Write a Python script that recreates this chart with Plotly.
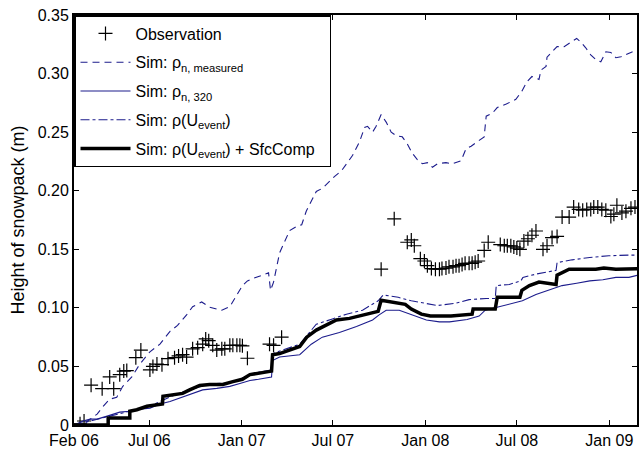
import pandas as pd
import plotly.graph_objects as go

# Days since 1 Feb 2006 and snow height (m)
START = pd.Timestamp("2006-02-01")

obs_day = [12, 20, 34, 56, 71, 79, 91, 99, 105, 123, 133, 151, 157, 165, 175, 187, 200, 208,
           216, 224, 236, 246, 256, 262, 268, 276, 284, 294, 300, 310, 316, 324, 330, 335, 345,
           389, 397, 413,
           611, 637, 663, 671, 677, 689, 697, 703, 711, 719, 727, 732, 740, 746, 754, 760, 766,
           772, 778, 786, 792, 798, 804, 816, 824, 848, 856, 862, 869, 875, 881, 887, 895, 903,
           911, 919, 933, 941, 951, 961, 971, 985, 994, 1004, 1012, 1020, 1028, 1034, 1042,
           1050, 1058, 1068, 1074, 1080, 1090, 1098, 1108, 1116]
obs_h = [0.001, 0.0034, 0.034, 0.031, 0.041, 0.031, 0.043, 0.046, 0.0465, 0.0575, 0.064,
         0.047, 0.050, 0.052, 0.0515, 0.0566, 0.0575, 0.059, 0.060, 0.058, 0.065, 0.066, 0.069,
         0.0735, 0.072, 0.068, 0.064, 0.065, 0.065, 0.068, 0.068, 0.068, 0.068, 0.0676, 0.057,
         0.069, 0.068, 0.075,
         0.133, 0.176, 0.156, 0.158, 0.153, 0.142, 0.140, 0.136, 0.1335, 0.133, 0.133, 0.1335,
         0.134, 0.135, 0.135, 0.136, 0.136, 0.137, 0.138, 0.138, 0.138, 0.139, 0.140, 0.149,
         0.156, 0.154, 0.153, 0.153, 0.153, 0.152, 0.151, 0.150, 0.157, 0.159, 0.162, 0.1656,
         0.150, 0.153, 0.160, 0.161, 0.1775, 0.1775, 0.186, 0.184, 0.1834, 0.184, 0.184, 0.186,
         0.186, 0.184, 0.1834, 0.178, 0.180, 0.1876, 0.181, 0.1825, 0.185, 0.186]

meas_day = [0, 22, 46, 58, 71, 85, 97, 115, 131, 151, 171, 191, 206, 224, 236, 254, 270, 294,
            310, 324, 335, 345, 355, 375, 387, 391, 397, 409, 419, 429, 445, 453, 462, 472, 482,
            494, 508, 518, 532, 542, 554, 568, 578, 584, 594, 601, 611, 621, 631, 641, 653, 663,
            673, 683, 693, 703, 713, 723, 740, 752, 770, 780, 790, 806, 816, 818, 820, 832, 842,
            860, 879, 891, 901, 911, 925, 929, 939, 941, 951, 961, 975, 989, 1000, 1008, 1018,
            1028, 1038, 1048, 1058, 1068, 1078, 1088, 1098, 1110, 1118]
meas_h = [0.0, 0.0017, 0.0093, 0.016, 0.022, 0.0237, 0.033, 0.041, 0.052, 0.0625, 0.069, 0.080,
          0.085, 0.094, 0.101, 0.105, 0.1005, 0.098, 0.101, 0.111, 0.119, 0.123, 0.125, 0.128,
          0.130, 0.115, 0.122, 0.147, 0.157, 0.166, 0.170, 0.171, 0.1825, 0.191, 0.1994, 0.202,
          0.208, 0.212, 0.217, 0.223, 0.230, 0.2417, 0.254, 0.255, 0.250, 0.255, 0.265, 0.2586,
          0.250, 0.247, 0.246, 0.240, 0.232, 0.2265, 0.223, 0.224, 0.220, 0.223, 0.224, 0.223,
          0.2256, 0.236, 0.238, 0.243, 0.246, 0.255, 0.2636, 0.266, 0.271, 0.274, 0.278, 0.285,
          0.293, 0.2975, 0.295, 0.303, 0.306, 0.314, 0.3186, 0.323, 0.323, 0.327, 0.330, 0.327,
          0.322, 0.316, 0.312, 0.310, 0.3186, 0.318, 0.3135, 0.3143, 0.316, 0.3186, 0.320]

n320_day = [0, 18, 32, 46, 66, 77, 91, 111, 131, 151, 171, 191, 210, 230, 256, 284, 310, 330,
            350, 367, 393, 395, 409, 449, 472, 494, 528, 562, 594, 607, 621, 647, 673, 701, 727,
            747, 782, 806, 818, 840, 866, 892, 919, 945, 971, 1000, 1026, 1052, 1078, 1104, 1122]
n320_h = [0.0, 0.0034, 0.005, 0.005, 0.0076, 0.009, 0.011, 0.0118, 0.0135, 0.0144, 0.018, 0.020,
          0.023, 0.026, 0.030, 0.0313, 0.033, 0.0355, 0.038, 0.039, 0.041, 0.055, 0.058, 0.060,
          0.069, 0.075, 0.079, 0.084, 0.0896, 0.094, 0.098, 0.098, 0.094, 0.0896, 0.088, 0.088,
          0.090, 0.093, 0.098, 0.1005, 0.103, 0.106, 0.1115, 0.115, 0.119, 0.121, 0.123, 0.124,
          0.126, 0.126, 0.128]

uev_day = [0, 46, 68, 111, 151, 191, 230, 270, 310, 335, 367, 393, 395, 449, 470, 482, 514, 542,
           574, 605, 615, 645, 671, 695, 723, 760, 786, 820, 838, 840, 866, 889, 893, 921, 959,
           961, 991, 1026, 1064, 1104, 1122]
uev_h = [0.0, 0.005, 0.007, 0.012, 0.016, 0.024, 0.030, 0.035, 0.036, 0.040, 0.045, 0.047, 0.061,
         0.069, 0.080, 0.086, 0.0905, 0.0946, 0.098, 0.106, 0.111, 0.109, 0.106, 0.104, 0.102,
         0.104, 0.107, 0.108, 0.108, 0.119, 0.120, 0.123, 0.126, 0.129, 0.132, 0.1386, 0.141,
         0.143, 0.1445, 0.145, 0.145]

sfc_day = [0, 68, 68, 111, 111, 125, 145, 165, 176, 177, 196, 216, 230, 250, 270, 296, 316, 335,
           350, 367, 393, 395, 409, 449, 463, 482, 502, 522, 548, 580, 605, 611, 631, 659, 671,
           691, 709, 750, 792, 794, 838, 842, 887, 891, 906, 925, 959, 961, 985, 1004, 1038,
           1054, 1078, 1122]
sfc_h = [0.0, 0.0, 0.006, 0.006, 0.0118, 0.013, 0.016, 0.0177, 0.018, 0.0245, 0.026, 0.027,
         0.030, 0.0338, 0.0346, 0.0346, 0.037, 0.039, 0.043, 0.044, 0.046, 0.060, 0.061, 0.067,
         0.075, 0.081, 0.085, 0.0896, 0.091, 0.0946, 0.097, 0.1065, 0.105, 0.103, 0.099, 0.0946,
         0.093, 0.093, 0.0946, 0.099, 0.099, 0.109, 0.109, 0.115, 0.119, 0.122, 0.120, 0.128,
         0.133, 0.133, 0.133, 0.134, 0.133, 0.1335]

tick_dates = ["2006-02-01", "2006-07-01", "2007-01-01", "2007-07-01", "2008-01-01",
              "2008-07-01", "2009-01-01"]
tick_text = ["Feb 06", "Jul 06", "Jan 07", "Jul 07", "Jan 08", "Jul 08", "Jan 09"]
y_ticks = [0, 0.05, 0.10, 0.15, 0.20, 0.25, 0.30, 0.35]
y_text = ["0", "0.05", "0.10", "0.15", "0.20", "0.25", "0.30", "0.35"]


def dates(days):
    return START + pd.to_timedelta(days, unit="D")


BLUE = "#1c1c8c"
FONT = "Liberation Sans, Arial, sans-serif"

fig = go.Figure()
fig.add_trace(go.Scatter(
    x=dates(obs_day), y=obs_h, mode="markers", name="Observation", legendgroup="obs",
    marker=dict(symbol="cross-thin", size=10, color="black",
                line=dict(width=1.2, color="black"))))
fig.add_trace(go.Scatter(
    x=dates(meas_day), y=meas_h, mode="lines", name="Sim: ρ<sub>n, measured</sub>",
    legendgroup="meas", line=dict(color=BLUE, width=1.1, dash="7px,5px")))
fig.add_trace(go.Scatter(
    x=dates(n320_day), y=n320_h, mode="lines", name="Sim: ρ<sub>n, 320</sub>",
    legendgroup="n320", line=dict(color=BLUE, width=1.1)))
fig.add_trace(go.Scatter(
    x=dates(uev_day), y=uev_h, mode="lines", name="Sim: ρ(U<sub>event</sub>)",
    legendgroup="uev", line=dict(color=BLUE, width=1.1, dash="dashdot")))
fig.add_trace(go.Scatter(
    x=dates(sfc_day), y=sfc_h, mode="lines",
    name="Sim: ρ(U<sub>event</sub>) + SfcComp\u00a0\u00a0",
    legendgroup="sfc", line=dict(color="black", width=3.5)))

axis_common = dict(showline=True, linecolor="black", linewidth=2, mirror="ticks",
                   ticks="inside", ticklen=5, tickwidth=1, tickcolor="black",
                   showgrid=False, zeroline=False,
                   tickfont=dict(family=FONT, size=16, color="black"))

fig.update_layout(
    width=642, height=452,
    margin=dict(l=74, r=3, t=15, b=23),
    paper_bgcolor="white", plot_bgcolor="white",
    font=dict(family=FONT, size=16, color="black"),
    showlegend=True,
    legend=dict(x=0, y=1, xanchor="left", yanchor="top",
                bgcolor="white", bordercolor="black", borderwidth=1.5,
                font=dict(family=FONT, size=16, color="black"),
                itemwidth=50, tracegroupgap=5),
    xaxis=dict(type="date", range=[dates([0])[0], dates([1120])[0]],
               tickvals=tick_dates, ticktext=tick_text, **axis_common),
    yaxis=dict(range=[0, 0.35], tickvals=y_ticks, ticktext=y_text,
               title=dict(text="Height of snowpack (m)", standoff=8,
                          font=dict(family=FONT, size=18, color="black")),
               **axis_common),
)

fig.write_html("out.html")
